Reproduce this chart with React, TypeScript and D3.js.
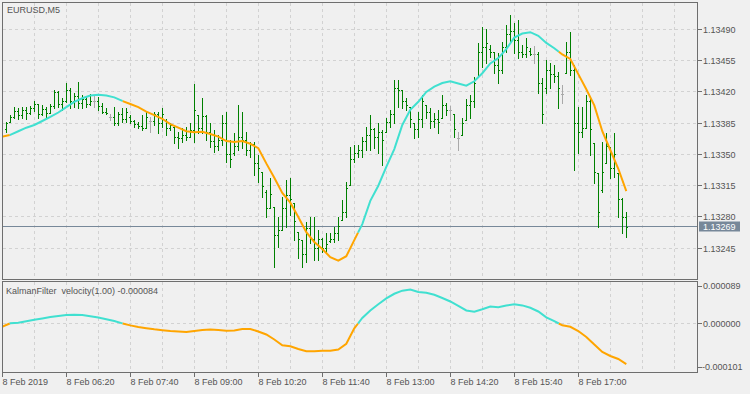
import React from "react";
import * as d3 from "d3";

// chart texts
const symbolTitle = "EURUSD,M5";
const indicatorTitle = "KalmanFilter  velocity(1.00) -0.000084";

// time axis labels, placed at bar index (M5 bars, bar 0 = 05:00)
const timeLabels = [
  "8 Feb 2019", "8 Feb 06:20", "8 Feb 07:40", "8 Feb 09:00", "8 Feb 10:20",
  "8 Feb 11:40", "8 Feb 13:00", "8 Feb 14:20", "8 Feb 15:40", "8 Feb 17:00",
];
const timeLabelBars = [0, 16, 32, 48, 64, 80, 96, 112, 128, 144];

const priceTicks = [1.13245, 1.1328, 1.13315, 1.1335, 1.13385, 1.1342, 1.13455, 1.1349];
const velocityTicks = [0.000089, 0, -0.000101];
const lastPrice = 1.13269;

// OHLC, bars 1..156
const barOpen = [
  1.13378, 1.13386, 1.13392, 1.13399, 1.13394, 1.134, 1.13396, 1.13402, 1.13406, 1.13395, 1.13401, 1.13396,
  1.13404, 1.1342, 1.13406, 1.1341, 1.13422, 1.1341, 1.13415, 1.13408, 1.13412, 1.13407, 1.1341, 1.1341,
  1.13404, 1.13398, 1.13392, 1.13392, 1.13385, 1.13395, 1.1339, 1.13392, 1.13388, 1.13384, 1.13382, 1.1338,
  1.13388, 1.13388, 1.13395, 1.13385, 1.13388, 1.1338, 1.13381, 1.1337, 1.13368, 1.13372, 1.1337, 1.13377,
  1.13394, 1.1338, 1.13393, 1.13375, 1.13365, 1.1336, 1.13366, 1.13385, 1.1335, 1.13352, 1.1336, 1.1337,
  1.13366, 1.13355, 1.13362, 1.1334, 1.1333, 1.13308, 1.1329, 1.13291, 1.1326, 1.13265, 1.1329, 1.13305,
  1.13296, 1.13263, 1.13254, 1.13238, 1.13268, 1.13255, 1.13245, 1.13255, 1.13245, 1.13253, 1.13255, 1.13262,
  1.13277, 1.13285, 1.13316, 1.13345, 1.13352, 1.13355, 1.13365, 1.13372, 1.13378, 1.1337, 1.13375, 1.13375,
  1.13386, 1.13395, 1.13425, 1.13422, 1.1341, 1.13403, 1.13385, 1.13378, 1.1339, 1.13405, 1.13398, 1.13388,
  1.1339, 1.13391, 1.13405, 1.134, 1.13395, 1.13368, 1.13372, 1.13389, 1.13405, 1.1341, 1.13437, 1.13465,
  1.1347, 1.13468, 1.13465, 1.1345, 1.13445, 1.1347, 1.13485, 1.13488, 1.13478, 1.13465, 1.13462, 1.13466,
  1.13463, 1.13463, 1.1343, 1.13425, 1.13445, 1.1344, 1.13438, 1.13418, 1.13441, 1.13465, 1.13445, 1.13385,
  1.13375, 1.1338, 1.1341, 1.13363, 1.13329, 1.1331, 1.1334, 1.13358, 1.13335, 1.13329, 1.133, 1.1328,
];
const barHigh = [
  1.13386, 1.13394, 1.13403, 1.13402, 1.13403, 1.13403, 1.13404, 1.1341, 1.13407, 1.13405, 1.13403, 1.13407,
  1.13422, 1.13421, 1.13413, 1.1343, 1.13424, 1.13419, 1.13431, 1.13417, 1.13414, 1.13418, 1.13415, 1.13414,
  1.13408, 1.13402, 1.13395, 1.13403, 1.13398, 1.13402, 1.13402, 1.13394, 1.13389, 1.13386, 1.13394, 1.13399,
  1.13392, 1.13398, 1.13398, 1.13402, 1.1339, 1.13385, 1.13381, 1.13375, 1.1338, 1.13381, 1.13385, 1.13429,
  1.13394, 1.13413, 1.13394, 1.13385, 1.13377, 1.13372, 1.13394, 1.13398, 1.13366, 1.13374, 1.13405, 1.13398,
  1.13375, 1.13364, 1.13364, 1.13349, 1.1333, 1.1331, 1.13324, 1.13291, 1.1328, 1.13302, 1.13321, 1.13324,
  1.13296, 1.13263, 1.13254, 1.13274, 1.1328, 1.1328, 1.13265, 1.13256, 1.13262, 1.13262, 1.13269, 1.1328,
  1.13299, 1.13319, 1.13358, 1.13361, 1.13361, 1.1337, 1.13381, 1.13394, 1.1338, 1.13385, 1.13377, 1.13391,
  1.134, 1.13433, 1.13433, 1.13422, 1.13413, 1.13403, 1.13385, 1.13398, 1.13417, 1.13405, 1.13402, 1.13396,
  1.134, 1.13417, 1.13408, 1.13404, 1.13395, 1.13375, 1.13391, 1.13412, 1.13417, 1.13437, 1.13475, 1.13493,
  1.13491, 1.13473, 1.13465, 1.13464, 1.13476, 1.13495, 1.13506, 1.13497, 1.13501, 1.13473, 1.1348, 1.13469,
  1.13471, 1.13465, 1.13436, 1.13456, 1.13452, 1.1345, 1.13442, 1.13428, 1.13476, 1.13487, 1.1345, 1.13403,
  1.13403, 1.13417, 1.13413, 1.13363, 1.13329, 1.13364, 1.13374, 1.13358, 1.13374, 1.13329, 1.13301, 1.13286,
];
const barLow = [
  1.13375, 1.13386, 1.13391, 1.1339, 1.13391, 1.1339, 1.13395, 1.13399, 1.13391, 1.13394, 1.13391, 1.13396,
  1.13402, 1.13403, 1.134, 1.13409, 1.13402, 1.13403, 1.13402, 1.13402, 1.13403, 1.13405, 1.13403, 1.134,
  1.13396, 1.13395, 1.13389, 1.13383, 1.13383, 1.13386, 1.13386, 1.13385, 1.13381, 1.1338, 1.13377, 1.1338,
  1.13375, 1.13383, 1.13374, 1.13381, 1.13372, 1.13377, 1.13363, 1.13357, 1.13364, 1.13366, 1.1337, 1.13364,
  1.13374, 1.13374, 1.13366, 1.13358, 1.13353, 1.13355, 1.13361, 1.13342, 1.13336, 1.13349, 1.13355, 1.13357,
  1.13349, 1.13347, 1.13327, 1.13319, 1.13302, 1.1328, 1.1329, 1.13224, 1.13246, 1.13265, 1.13269, 1.13282,
  1.13254, 1.13234, 1.13224, 1.1323, 1.13251, 1.13232, 1.13232, 1.13241, 1.1324, 1.13252, 1.13252, 1.13254,
  1.13277, 1.1328, 1.13316, 1.13342, 1.13347, 1.13347, 1.13355, 1.13355, 1.13357, 1.13352, 1.13338, 1.13375,
  1.13381, 1.13385, 1.13403, 1.13402, 1.134, 1.13381, 1.13368, 1.1337, 1.13381, 1.13391, 1.1338, 1.13381,
  1.13374, 1.13391, 1.13394, 1.13389, 1.1337, 1.13355, 1.13372, 1.13389, 1.13391, 1.13403, 1.13437, 1.13448,
  1.13452, 1.13459, 1.13441, 1.1343, 1.13441, 1.13465, 1.13475, 1.13464, 1.13458, 1.13459, 1.13459, 1.13461,
  1.13452, 1.13419, 1.13385, 1.13419, 1.13424, 1.13431, 1.13402, 1.13408, 1.13441, 1.13439, 1.13333, 1.13352,
  1.1337, 1.1338, 1.13349, 1.13318, 1.13269, 1.13308, 1.1334, 1.13324, 1.13325, 1.1328, 1.13262, 1.13258,
];
const barClose = [
  1.13385, 1.13392, 1.13399, 1.13394, 1.134, 1.13396, 1.13402, 1.13406, 1.13395, 1.13401, 1.13396, 1.13404,
  1.1342, 1.13406, 1.1341, 1.13422, 1.1341, 1.13415, 1.13408, 1.13412, 1.13407, 1.1341, 1.1341, 1.13404,
  1.13398, 1.13397, 1.13392, 1.13385, 1.13395, 1.1339, 1.13398, 1.13388, 1.13384, 1.13382, 1.1338, 1.13392,
  1.13388, 1.13395, 1.13385, 1.13395, 1.1338, 1.13383, 1.1337, 1.13368, 1.13372, 1.1337, 1.13377, 1.134,
  1.1338, 1.13393, 1.13375, 1.13365, 1.1336, 1.13366, 1.13385, 1.1335, 1.13345, 1.1336, 1.1337, 1.13366,
  1.13355, 1.13362, 1.1334, 1.13335, 1.13315, 1.1329, 1.13306, 1.1326, 1.13265, 1.1329, 1.13305, 1.133,
  1.13275, 1.13255, 1.13238, 1.13268, 1.13255, 1.13245, 1.13255, 1.13245, 1.1325, 1.13255, 1.13262, 1.1327,
  1.13285, 1.13312, 1.13345, 1.13352, 1.13355, 1.13365, 1.13372, 1.13378, 1.1337, 1.13375, 1.13366, 1.13386,
  1.13395, 1.13425, 1.13422, 1.1341, 1.13405, 1.1339, 1.13378, 1.1339, 1.1341, 1.13398, 1.13388, 1.1339,
  1.13386, 1.13405, 1.134, 1.134, 1.13378, 1.13368, 1.13385, 1.13405, 1.1341, 1.1343, 1.13465, 1.1347,
  1.13475, 1.13465, 1.1345, 1.13445, 1.1347, 1.13485, 1.13488, 1.13478, 1.13465, 1.13462, 1.1347, 1.13463,
  1.13463, 1.1343, 1.13395, 1.13445, 1.1344, 1.13438, 1.13425, 1.13418, 1.13465, 1.13445, 1.13385, 1.13375,
  1.1338, 1.1341, 1.13378, 1.1333, 1.13285, 1.1333, 1.1336, 1.13335, 1.1335, 1.133, 1.1328, 1.13269,
];

// Kalman filter line, one value every 2 bars (bars 0, 2, 4 ... 156)
const kalman = [
  1.1337, 1.13372, 1.13376, 1.1338, 1.13383, 1.133875, 1.13392, 1.13397, 1.13403, 1.13409,
  1.13413, 1.13416, 1.13417, 1.13416, 1.13414, 1.1341, 1.134065, 1.13403, 1.13398, 1.13394,
  1.1339, 1.13384, 1.1338, 1.13376, 1.133748, 1.133755, 1.13373, 1.1337, 1.13365, 1.13364,
  1.13365, 1.13362, 1.13357, 1.1334, 1.13324, 1.13307, 1.13296, 1.1328, 1.13263, 1.13252,
  1.13244, 1.13235, 1.13231, 1.13236, 1.13254, 1.13272, 1.13298, 1.13315, 1.13336, 1.13356,
  1.13383, 1.134, 1.13409, 1.1342, 1.13426, 1.1343, 1.13432, 1.134295, 1.13427, 1.13432,
  1.13441, 1.13452, 1.13458, 1.13468, 1.13481, 1.134855, 1.13487, 1.13483, 1.13475, 1.13469,
  1.13462, 1.13457, 1.1344, 1.13423, 1.13405, 1.13376, 1.13355, 1.13334, 1.13309,
];
// Kalman velocity, same bars as above
const velocity = [
  -6.6e-6, 0.5e-6, 1.5e-6, 4.5e-6, 7.6e-6, 10.5e-6, 13.2e-6, 15.5e-6, 17.6e-6, 18.2e-6,
  17.4e-6, 15.1e-6, 12.4e-6, 8.9e-6, 5.2e-6, 0.2e-6, -3.9e-6, -7.2e-6, -9.7e-6, -12e-6,
  -13.8e-6, -15.5e-6, -16.7e-6, -17.6e-6, -15.5e-6, -13.4e-6, -12.4e-6, -13.4e-6, -15.1e-6, -14.5e-6,
  -11.4e-6, -11.4e-6, -16.5e-6, -22.7e-6, -33e-6, -45e-6, -46.9e-6, -52.7e-6, -57.2e-6, -57.4e-6,
  -56.4e-6, -56.4e-6, -53.7e-6, -41.9e-6, -10e-6, 11.4e-6, 26.9e-6, 39.7e-6, 51.7e-6, 61.4e-6,
  67.8e-6, 70.2e-6, 65.1e-6, 63.6e-6, 59.3e-6, 52.7e-6, 45.5e-6, 36.2e-6, 26.9e-6, 24.4e-6,
  29.3e-6, 35.1e-6, 33.7e-6, 37.2e-6, 39.7e-6, 37.4e-6, 32.4e-6, 24.8e-6, 12.8e-6, 4.8e-6,
  -3.7e-6, -6.8e-6, -15.5e-6, -27.9e-6, -43.4e-6, -58.9e-6, -67.1e-6, -73.3e-6, -84e-6,
];

const BG = "#f0f0f0";
const FG = "#545454";
const BORDER = "#6e6e6e";
const GRID = "#d2d2d2";
const BAR = "#008000";
const DOJI = "#a9a9a9";
const UP = "#40e0d0";
const DOWN = "#ffa500";
const PRICE_LINE = "#778899";
const FONT = "'Liberation Sans', Arial, sans-serif";

// pane geometry
const left = 2;
const right = 697;
const mainTop = 2;
const mainBottom = 279;
const subTop = 281;
const subBottom = 372;

type Pt = { x: number; y: number };

// split a line into runs coloured by the sign of v, cutting at the zero crossings
function signRuns(pts: Pt[], vs: number[]) {
  const runs: { up: boolean; pts: Pt[] }[] = [];
  const add = (up: boolean, a: Pt, b: Pt) => {
    const last = runs[runs.length - 1];
    if (last && last.up === up) last.pts.push(b);
    else runs.push({ up, pts: [a, b] });
  };
  for (let i = 0; i < pts.length - 1; i++) {
    const a = pts[i], b = pts[i + 1];
    const v0 = vs[i], v1 = vs[i + 1];
    if (v0 * v1 < 0) {
      const t = v0 / (v0 - v1);
      const m = { x: a.x + (b.x - a.x) * t, y: a.y + (b.y - a.y) * t };
      add(v0 > 0, a, m);
      add(v1 > 0, m, b);
    } else add(v0 + v1 > 0, a, b);
  }
  return runs;
}

const App: React.FC = () => {
  const x = d3.scaleLinear().domain([0, 160]).range([2.3, 642.3]);
  const y = d3.scaleLinear().domain([1.132105, 1.135208]).range([mainBottom, mainTop]);
  const yv = d3.scaleLinear().domain([-0.000101, 0.000089]).range([372.4, 280.4]);
  const line = d3.line<Pt>().x((d) => d.x).y((d) => d.y);

  const gridX = d3.range(8, 176, 8).map((k) => Math.floor(x(k)) + 0.5);

  const kalmanPts = kalman.map((v, j) => ({ x: x(j * 2), y: y(v) }));
  const velPts = velocity.map((v, j) => ({ x: x(j * 2), y: yv(v) }));
  const kalmanRuns = signRuns(kalmanPts, velocity);
  const velRuns = signRuns(velPts, velocity);

  const lastY = Math.floor(y(lastPrice)) + 0.5;

  return (
    <svg
      width={750}
      height={394}
      style={{ position: "absolute", left: 0, top: 0, background: BG }}
      fontFamily={FONT}
      fontSize={9}
    >
      <defs>
        <clipPath id="mainClip">
          <rect x={left + 1} y={mainTop + 1} width={right - left - 1} height={mainBottom - mainTop - 1} />
        </clipPath>
        <clipPath id="subClip">
          <rect x={left + 1} y={subTop + 1} width={right - left - 1} height={subBottom - subTop - 1} />
        </clipPath>
      </defs>
      <rect width={750} height={394} fill={BG} />

      {/* grid */}
      <g stroke={GRID} strokeDasharray="3,3" shapeRendering="crispEdges">
        {gridX.map((gx) => (
          <g key={gx}>
            <line x1={gx} x2={gx} y1={mainTop + 1} y2={mainBottom} />
            <line x1={gx} x2={gx} y1={subTop + 1} y2={subBottom} />
          </g>
        ))}
        {priceTicks.map((t) => (
          <line key={t} x1={left + 1} x2={right} y1={Math.floor(y(t)) + 0.5} y2={Math.floor(y(t)) + 0.5} />
        ))}
        <line x1={left + 1} x2={right} y1={Math.floor(yv(0)) + 0.5} y2={Math.floor(yv(0)) + 0.5} />
      </g>

      {/* current price line */}
      <line x1={left} x2={right} y1={lastY} y2={lastY} stroke={PRICE_LINE} shapeRendering="crispEdges" />

      {/* OHLC bars */}
      <g clipPath="url(#mainClip)" shapeRendering="crispEdges">
        {barOpen.map((o, i) => {
          const k = i + 1;
          const bx = Math.floor(x(k));
          const c = barClose[i];
          const yh = Math.round(y(barHigh[i]));
          const yl = Math.round(y(barLow[i]));
          const fill = o === c ? DOJI : BAR;
          return (
            <g key={k} fill={fill}>
              <rect x={bx} y={yh} width={1} height={yl - yh + 1} />
              <rect x={bx - 1} y={Math.round(y(o))} width={1} height={1} />
              <rect x={bx + 1} y={Math.round(y(c))} width={1} height={1} />
            </g>
          );
        })}
      </g>

      {/* Kalman line */}
      <g clipPath="url(#mainClip)" fill="none" strokeWidth={2}>
        {kalmanRuns.map((r, i) => (
          <path key={i} d={line(r.pts) || ""} stroke={r.up ? UP : DOWN} />
        ))}
      </g>

      {/* velocity line */}
      <g clipPath="url(#subClip)" fill="none" strokeWidth={2}>
        {velRuns.map((r, i) => (
          <path key={i} d={line(r.pts) || ""} stroke={r.up ? UP : DOWN} />
        ))}
      </g>

      {/* pane borders */}
      <g fill="none" stroke={BORDER} shapeRendering="crispEdges">
        <rect x={left + 0.5} y={mainTop + 0.5} width={right - left} height={mainBottom - mainTop} />
        <rect x={left + 0.5} y={subTop + 0.5} width={right - left} height={subBottom - subTop} />
      </g>

      {/* price axis */}
      <g fill={FG}>
        {priceTicks.map((t) => {
          const ty = Math.floor(y(t)) + 0.5;
          return (
            <g key={t}>
              <line x1={right + 1} x2={right + 5} y1={ty} y2={ty} stroke={BORDER} shapeRendering="crispEdges" />
              <text x={703} y={ty} dy="0.35em">{t.toFixed(5)}</text>
            </g>
          );
        })}
      </g>
      <rect x={699} y={lastY - 5} width={41} height={10} fill={PRICE_LINE} />
      <text x={703} y={lastY} dy="0.35em" fill="#ffffff">{lastPrice.toFixed(5)}</text>

      {/* velocity axis */}
      <g fill={FG}>
        {velocityTicks.map((t) => {
          const ty = Math.min(Math.max(yv(t), subTop + 5), subBottom - 5);
          return (
            <g key={t}>
              <line x1={right + 1} x2={right + 5} y1={Math.floor(ty) + 0.5} y2={Math.floor(ty) + 0.5} stroke={BORDER} shapeRendering="crispEdges" />
              <text x={t < 0 ? 702 : 703} y={ty} dy="0.35em">{t.toFixed(6)}</text>
            </g>
          );
        })}
      </g>

      {/* time axis */}
      <g fill={FG}>
        {timeLabels.map((lbl, i) => {
          const tx = Math.floor(x(timeLabelBars[i])) + 0.5;
          return (
            <g key={lbl}>
              <line x1={tx} x2={tx} y1={subBottom + 1} y2={subBottom + 5} stroke={BORDER} shapeRendering="crispEdges" />
              <text x={tx} y={382} dy="0.35em">{lbl}</text>
            </g>
          );
        })}
      </g>

      {/* titles */}
      <text x={7} y={9.5} dy="0.35em" fill={FG}>{symbolTitle}</text>
      <text x={6} y={290.7} dy="0.35em" fill={FG} style={{ whiteSpace: "pre" }}>{indicatorTitle}</text>
    </svg>
  );
};

export default App;
